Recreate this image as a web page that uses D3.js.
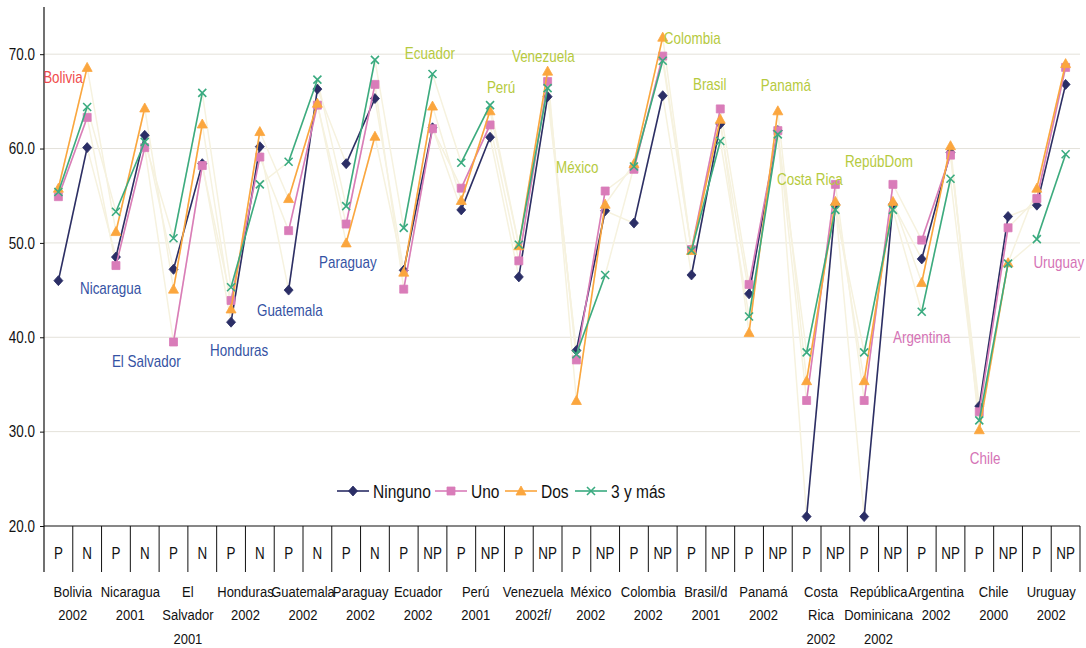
<!DOCTYPE html>
<html>
<head>
<meta charset="utf-8">
<script src="https://cdn.jsdelivr.net/npm/d3@7"></script>
<style>
    body { margin: 0; background: #fff; }
    svg text { font-family: "Liberation Sans", Arial, sans-serif; fill: #111; }
</style>
</head>
<body>
<div id="chart"></div>
<script>
// categories (country groups) and sub categories
const countryLabels = [
    ["Bolivia", "2002"], ["Nicaragua", "2001"], ["El", "Salvador", "2001"], ["Honduras", "2002"],
    ["Guatemala", "2002"], ["Paraguay", "2002"], ["Ecuador", "2002"], ["Perú", "2001"],
    ["Venezuela", "2002f/"], ["México", "2002"], ["Colombia", "2002"], ["Brasil/d", "2001"],
    ["Panamá", "2002"], ["Costa", "Rica", "2002"], ["República", "Dominicana", "2002"],
    ["Argentina", "2002"], ["Chile", "2000"], ["Uruguay", "2002"]
]
const subLabels = ["P", "N", "P", "N", "P", "N", "P", "N", "P", "N", "P", "N",
    "P", "NP", "P", "NP", "P", "NP", "P", "NP", "P", "NP", "P", "NP",
    "P", "NP", "P", "NP", "P", "NP", "P", "NP", "P", "NP", "P", "NP"]

// series values (P, N/NP for each country)
const ninguno = [46.0, 60.1, 48.5, 61.4, 47.2, 58.4, 41.6, 60.2, 45.0, 66.3, 58.4, 65.3,
    47.1, 62.2, 53.5, 61.2, 46.4, 65.5, 38.6, 53.4, 52.1, 65.6, 46.6, 62.6,
    44.6, 61.9, 21.0, 54.1, 21.0, 54.1, 48.3, 59.6, 32.7, 52.8, 54.0, 66.8]
const uno = [54.9, 63.3, 47.6, 60.1, 39.5, 58.2, 43.9, 59.1, 51.3, 64.6, 52.0, 66.8,
    45.1, 62.1, 55.8, 62.5, 48.1, 67.1, 37.6, 55.5, 57.8, 69.8, 49.3, 64.2,
    45.6, 61.9, 33.3, 56.2, 33.3, 56.2, 50.3, 59.3, 32.1, 51.6, 54.7, 68.6]
const dos = [55.8, 68.6, 51.2, 64.3, 45.1, 62.6, 43.0, 61.8, 54.7, 64.8, 50.0, 61.3,
    46.9, 64.5, 54.5, 64.0, 49.7, 68.2, 33.3, 54.1, 58.4, 71.8, 49.2, 63.1,
    40.5, 64.0, 35.4, 54.4, 35.4, 54.4, 45.8, 60.3, 30.2, 47.9, 55.8, 69.0]
const tresYMas = [55.4, 64.4, 53.3, 60.7, 50.5, 65.9, 45.3, 56.2, 58.6, 67.3, 53.9, 69.4,
    51.6, 67.9, 58.5, 64.6, 49.8, 66.4, 38.2, 46.6, 58.1, 69.3, 49.2, 60.8,
    42.2, 61.5, 38.4, 53.5, 38.4, 53.5, 42.7, 56.8, 31.2, 47.8, 50.4, 59.4]

const seriesNames = ["Ninguno", "Uno", "Dos", "3 y más"]
const yTicks = [20, 30, 40, 50, 60, 70]

// in-plot country annotations: text, colour group, slot position, value
const annotNames = ["Bolivia", "Nicaragua", "El Salvador", "Honduras", "Guatemala", "Paraguay",
    "Ecuador", "Perú", "Venezuela", "México", "Colombia", "Brasil", "Panamá", "Costa Rica",
    "RepúbDom", "Argentina", "Chile", "Uruguay"]
const annotGroup = [0, 1, 1, 1, 1, 1, 2, 2, 2, 2, 2, 2, 2, 2, 2, 3, 3, 3]
const annotSlot = [-0.03, 1.25, 2.36, 5.77, 7.40, 9.56, 12.54, 15.39, 16.26, 17.79, 21.54,
    22.55, 24.91, 25.47, 27.83, 29.50, 32.17, 34.38]
const annotValue = [66.9, 44.6, 36.9, 38.05, 42.3, 47.3, 69.5, 65.9, 69.15, 57.4, 71.05,
    66.2, 66.1, 56.1, 58.0, 39.4, 26.6, 47.3]
const annotColors = ["#f04c4c", "#3552a3", "#b6ca3e", "#d573b6"]

const W = 1086, H = 648
const plotLeft = 44, plotRight = 1080, plotTop = 7, plotBottom = 526, tableBottom = 572
const squeeze = " scale(0.84,1)"   // the original text is a condensed sans

const svg = d3.select("#chart").append("svg")
    .attr("width", W)
    .attr("height", H)

const slots = d3.range(subLabels.length)
const x = d3.scaleBand().domain(slots).range([plotLeft, plotRight]).padding(0)
const xs = d3.scaleLinear().domain([0, slots.length]).range([plotLeft, plotRight])
const y = d3.scaleLinear().domain([20, 75]).range([plotBottom, plotTop])
const cx = i => x(i) + x.bandwidth() / 2

// gridlines
svg.append("g")
    .selectAll("line")
    .data(yTicks.filter(t => t > 20))
    .join("line")
    .attr("x1", plotLeft).attr("x2", plotRight)
    .attr("y1", d => y(d)).attr("y2", d => y(d))
    .attr("stroke", "#e4e2da")
    .attr("stroke-width", 1)

// y axis
const yAxis = svg.append("g")
    .attr("transform", "translate(" + plotLeft + ",0)")
    .call(d3.axisLeft(y).tickValues(yTicks).tickFormat(d3.format(".1f")).tickSize(4).tickPadding(6))
yAxis.select(".domain").remove()
yAxis.selectAll("line").attr("stroke", "#111")
yAxis.selectAll("text")
    .style("font-size", "16px")
    .attr("fill", "#111")
    .attr("transform", "translate(-9,0)" + squeeze)
    .attr("x", 0)

svg.append("line")
    .attr("x1", plotLeft).attr("x2", plotLeft)
    .attr("y1", plotTop).attr("y2", tableBottom)
    .attr("stroke", "#111").attr("stroke-width", 1.2)

svg.append("line")
    .attr("x1", plotLeft).attr("x2", plotRight)
    .attr("y1", plotBottom).attr("y2", plotBottom)
    .attr("stroke", "#111").attr("stroke-width", 1.2)

// category table below the axis
svg.append("g")
    .selectAll("line")
    .data(slots.map(i => i + 1))
    .join("line")
    .attr("x1", d => xs(d)).attr("x2", d => xs(d))
    .attr("y1", plotBottom).attr("y2", tableBottom)
    .attr("stroke", "#111").attr("stroke-width", 1)

svg.append("g")
    .selectAll("text")
    .data(subLabels)
    .join("text")
    .attr("transform", (d, i) => "translate(" + cx(i) + ",559)" + squeeze)
    .attr("text-anchor", "middle")
    .style("font-size", "16px")
    .text(d => d)

const groups = svg.append("g")
    .selectAll("text")
    .data(countryLabels)
    .join("text")
    .attr("transform", (d, i) => "translate(" + xs(i * 2 + 1) + ",597)" + squeeze)
    .attr("text-anchor", "middle")
    .style("font-size", "15.5px")

groups.selectAll("tspan")
    .data(d => d)
    .join("tspan")
    .attr("x", 0)
    .attr("dy", (d, i) => i === 0 ? 0 : 23.5)
    .text(d => d)

// series
const seriesData = [ninguno, uno, dos, tresYMas]
const colors = ["#2b2e66", "#d97cb9", "#fba63e", "#3aab80"]

function markerPath(k) {
    if (k === 0) return "M0,-5L4.5,0L0,5L-4.5,0Z"
    if (k === 1) return "M-4,-4H4V4H-4Z"
    if (k === 2) return "M0,-5L5,4L-5,4Z"
    return "M-4,-4L4,4M-4,4L4,-4"
}

const line = d3.line().x((d, i) => cx(i)).y(d => y(d))

// faint connectors between countries first
seriesData.forEach(function (vals) {
    svg.append("path")
        .datum(vals)
        .attr("d", line)
        .attr("fill", "none")
        .attr("stroke", "#f6f2df")
        .attr("stroke-width", 1.5)
})

seriesData.forEach(function (vals, k) {
    const g = svg.append("g")
    const pairs = d3.range(countryLabels.length).map(c => [c * 2, c * 2 + 1])
    g.selectAll("line")
        .data(pairs)
        .join("line")
        .attr("x1", d => cx(d[0])).attr("y1", d => y(vals[d[0]]))
        .attr("x2", d => cx(d[1])).attr("y2", d => y(vals[d[1]]))
        .attr("stroke", colors[k])
        .attr("stroke-width", 1.6)

    g.selectAll("path")
        .data(vals)
        .join("path")
        .attr("transform", (d, i) => "translate(" + cx(i) + "," + y(d) + ")")
        .attr("d", markerPath(k))
        .attr("fill", k === 3 ? "none" : colors[k])
        .attr("stroke", colors[k])
        .attr("stroke-width", k === 3 ? 1.6 : 0.8)
})

// country annotations inside the plot
svg.append("g")
    .selectAll("text")
    .data(annotNames)
    .join("text")
    .attr("transform", (d, i) => "translate(" + xs(annotSlot[i]) + "," + y(annotValue[i]) + ")" + squeeze)
    .style("fill", (d, i) => annotColors[annotGroup[i]])
    .style("font-size", "16px")
    .text(d => d)

// legend
const legendX = [337, 435, 505, 575]
const legend = svg.append("g")
    .selectAll("g")
    .data(seriesNames)
    .join("g")
    .attr("transform", (d, i) => "translate(" + legendX[i] + ",491)")

legend.append("line")
    .attr("x1", 0).attr("x2", 32)
    .attr("stroke", (d, i) => colors[i])
    .attr("stroke-width", 1.6)

legend.append("path")
    .attr("transform", "translate(16,0)")
    .attr("d", (d, i) => markerPath(i))
    .attr("fill", (d, i) => i === 3 ? "none" : colors[i])
    .attr("stroke", (d, i) => colors[i])
    .attr("stroke-width", (d, i) => i === 3 ? 1.6 : 0.8)

legend.append("text")
    .attr("transform", "translate(36,6.5)" + squeeze)
    .style("font-size", "18.5px")
    .text(d => d)
</script>
</body>
</html>
